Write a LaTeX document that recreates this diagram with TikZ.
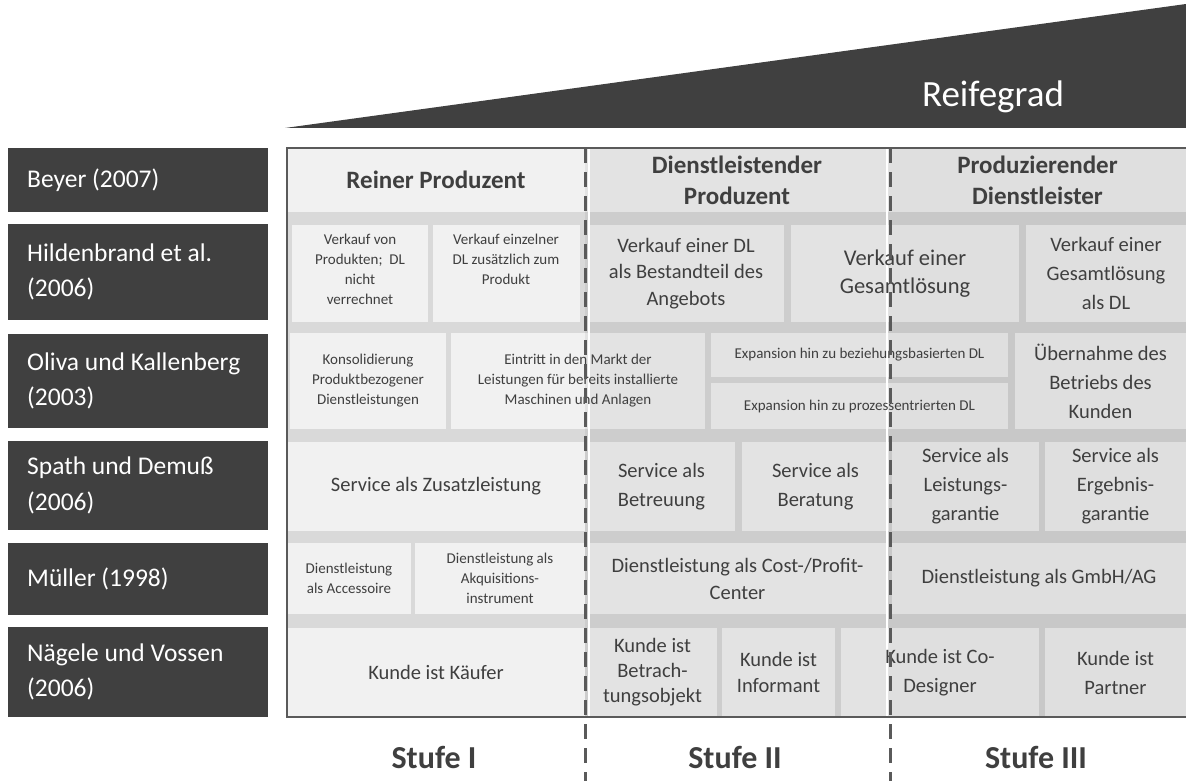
\documentclass[tikz,border=0pt]{standalone}
\usepackage{fontspec}
\setmainfont{Carlito}
\usetikzlibrary{fit}
\definecolor{boxdark}{HTML}{404040}
\definecolor{inktext}{HTML}{3F3F3F}
\definecolor{bandgray}{HTML}{D9D9D9}
\definecolor{cellgray}{HTML}{F1F1F1}
\definecolor{framegray}{HTML}{5A5A5A}
\tikzset{
  leftbox/.style={fill=boxdark, inner sep=0pt, outer sep=0pt},
  lefttext/.style={text=white, font=\fontsize{25.5}{35.5}\selectfont, align=left, anchor=west, inner sep=0pt},
  cellbox/.style={fill=cellgray, inner sep=0pt, outer sep=0pt},
  txts/.style={text=inktext, font=\fontsize{15}{20}\selectfont, align=center, inner sep=0pt},
  txtm/.style={text=inktext, font=\fontsize{20.5}{26.5}\selectfont, align=center, inner sep=0pt},
  txtmw/.style={text=inktext, font=\fontsize{20.5}{29}\selectfont, align=center, inner sep=0pt},
  txth/.style={text=inktext, font=\bfseries\fontsize{25}{31}\selectfont, align=center, inner sep=0pt},
  stufe/.style={text=inktext, font=\bfseries\fontsize{32}{38}\selectfont, inner sep=0pt},
  dashline/.style={draw=framegray, line width=3pt, dash pattern=on 15pt off 9pt},
}
% cell background: name, x1, y1, x2, y2
\newcommand\cellbg[5]{\node[cellbox, fit={(#2,#3) (#4,#5)}] (#1) {};}
% left label box: name, y1, y2
\newcommand\authorbox[3]{\node[leftbox, fit={(8,#2) (268,#3)}] (#1) {};}

\begin{document}
\begin{tikzpicture}[x=1pt,y=-1pt]
\useasboundingbox (0,0) rectangle (1186,781);
\fill[white] (0,0) rectangle (1186,781);

% rising wedge
\fill[boxdark] (285,128) -- (1186,4) -- (1186,128) -- cycle;
\node[text=white, font=\fontsize{37}{44}\selectfont, inner sep=0pt] (reife) at (993,97) {Reifegrad};

% author column
\authorbox{aBeyer}{148}{212}
\authorbox{aHild}{224}{320}
\authorbox{aOliva}{334}{428}
\authorbox{aSpath}{441}{530}
\authorbox{aMueller}{543}{615}
\authorbox{aNaegele}{627}{717}
\node[lefttext] (tBeyer) at ([xshift=19pt]aBeyer.west) {Beyer (2007)};
\node[lefttext] (tHild) at ([xshift=19pt]aHild.west) {Hildenbrand et al.\\(2006)};
\node[lefttext] (tOliva) at ([xshift=19pt]aOliva.west) {Oliva und Kallenberg\\(2003)};
\node[lefttext] (tSpath) at ([xshift=19pt]aSpath.west) {Spath und Demuß\\(2006)};
\node[lefttext] (tMueller) at ([xshift=19pt]aMueller.west) {Müller (1998)};
\node[lefttext] (tNaegele) at ([xshift=19pt]aNaegele.west) {Nägele und Vossen\\(2006)};

% panel base (gaps between cells)
\fill[bandgray] (287,148) rectangle (1186,717);

% row 1: headers
\cellbg{hA}{287}{148}{585}{212}
\cellbg{hB}{585}{148}{889}{212}
\cellbg{hC}{889}{148}{1186}{212}
% row 2
\cellbg{rBa}{292}{225}{428}{322}
\cellbg{rBb}{433}{225}{580}{322}
\cellbg{rBc}{588}{225}{784}{322}
\cellbg{rBd}{791}{225}{1019}{322}
\cellbg{rBe}{1026}{225}{1186}{322}
% row 3
\cellbg{rCa}{290}{333}{446}{429}
\cellbg{rCb}{451}{333}{705}{429}
\cellbg{rCc}{711}{333}{1008}{377}
\cellbg{rCd}{711}{383}{1008}{429}
\cellbg{rCe}{1015}{333}{1186}{429}
% row 4
\cellbg{rDa}{287}{442}{585}{531}
\cellbg{rDb}{588}{442}{735}{531}
\cellbg{rDc}{742}{442}{889}{531}
\cellbg{rDd}{892}{442}{1039}{531}
\cellbg{rDe}{1045}{442}{1186}{531}
% row 5
\cellbg{rEa}{287}{543}{411}{614}
\cellbg{rEb}{415}{543}{585}{614}
\cellbg{rEc}{588}{543}{887}{614}
\cellbg{rEd}{892}{543}{1186}{614}
% row 6
\cellbg{rFa}{287}{628}{585}{717}
\cellbg{rFb}{588}{628}{717}{717}
\cellbg{rFc}{722}{628}{835}{717}
\cellbg{rFd}{841}{628}{1039}{717}
\cellbg{rFe}{1045}{628}{1186}{717}

% darker tint of stages II and III
\fill[black, opacity=0.055] (585,148) rectangle (889,717);
\fill[black, opacity=0.075] (889,148) rectangle (1186,717);

% light seams beside the stage dividers
\draw[white, line width=2pt] (588.5,148) -- (588.5,717);
\draw[white, line width=2pt] (887,148) -- (887,717);

% panel frame
\draw[framegray, line width=1.2pt] (1186,148) -- (287,148) -- (287,717) -- (1186,717);

% header texts
\node[txth] (thA) at (hA.center) {Reiner Produzent};
\node[txth] (thB) at (hB.center) {Dienstleistender\\Produzent};
\node[txth] (thC) at (hC.center) {Produzierender\\Dienstleister};

% row 2 texts
\node[txts, anchor=north] (tBa) at (360,234) {Verkauf von\\Produkten;~ DL\\nicht\\verrechnet};
\node[txts, anchor=north] (tBb) at (506,234) {Verkauf einzelner\\DL zusätzlich zum\\Produkt};
\node[txtm] (tBc) at (rBc.center) {Verkauf einer DL\\als Bestandteil des\\Angebots};
\node[txtm, font=\fontsize{22.5}{28}\selectfont] (tBd) at (rBd.center) {Verkauf einer\\Gesamtlösung};
\node[txtmw] (tBe) at (rBe.center) {Verkauf einer\\Gesamtlösung\\als DL};
% row 3 texts
\node[txts] (tCa) at (rCa.center) {Konsolidierung\\Produktbezogener\\Dienstleistungen};
\node[txts] (tCb) at (rCb.center) {Eintritt in den Markt der\\Leistungen für bereits installierte\\Maschinen und Anlagen};
\node[txts] (tCc) at (rCc.center) {Expansion hin zu beziehungsbasierten DL};
\node[txts] (tCd) at (rCd.center) {Expansion hin zu prozessentrierten DL};
\node[txtmw] (tCe) at (rCe.center) {Übernahme des\\Betriebs des\\Kunden};
% row 4 texts
\node[txtm] (tDa) at (rDa.center) {Service als Zusatzleistung};
\node[txtmw] (tDb) at (rDb.center) {Service als\\Betreuung};
\node[txtmw] (tDc) at (rDc.center) {Service als\\Beratung};
\node[txtmw] (tDd) at (rDd.center) {Service als\\Leistungs-\\garantie};
\node[txtmw] (tDe) at (rDe.center) {Service als\\Ergebnis-\\garantie};
% row 5 texts
\node[txts] (tEa) at (rEa.center) {Dienstleistung\\als Accessoire};
\node[txts] (tEb) at (rEb.center) {Dienstleistung als\\Akquisitions-\\instrument};
\node[txtm, font=\fontsize{20.5}{27}\selectfont] (tEc) at (rEc.center) {Dienstleistung als Cost-/Profit-\\Center};
\node[txtm] (tEd) at (rEd.center) {Dienstleistung als GmbH/AG};
% row 6 texts
\node[txtm] (tFa) at (rFa.center) {Kunde ist Käufer};
\node[txtm, font=\fontsize{20.5}{25}\selectfont] (tFb) at (rFb.center) {Kunde ist\\Betrach-\\tungsobjekt};
\node[txtm] (tFc) at (rFc.center) {Kunde ist\\Informant};
\node[txtmw] (tFd) at (rFd.center) {Kunde ist Co-\\Designer};
\node[txtmw] (tFe) at (rFe.center) {Kunde ist\\Partner};

% stage dividers
\coordinate (dOneTop) at (585,148);
\coordinate (dOneBot) at (585,781);
\coordinate (dTwoTop) at (890,148);
\coordinate (dTwoBot) at (890,781);
\draw[dashline] (dOneTop) -- (dOneBot);
\draw[dashline] (dTwoTop) -- (dTwoBot);

% stage labels
\node[stufe] (sI) at (434,757) {Stufe I};
\node[stufe] (sII) at (735,757) {Stufe II};
\node[stufe] (sIII) at (1036,757) {Stufe III};
\end{tikzpicture}
\end{document}
